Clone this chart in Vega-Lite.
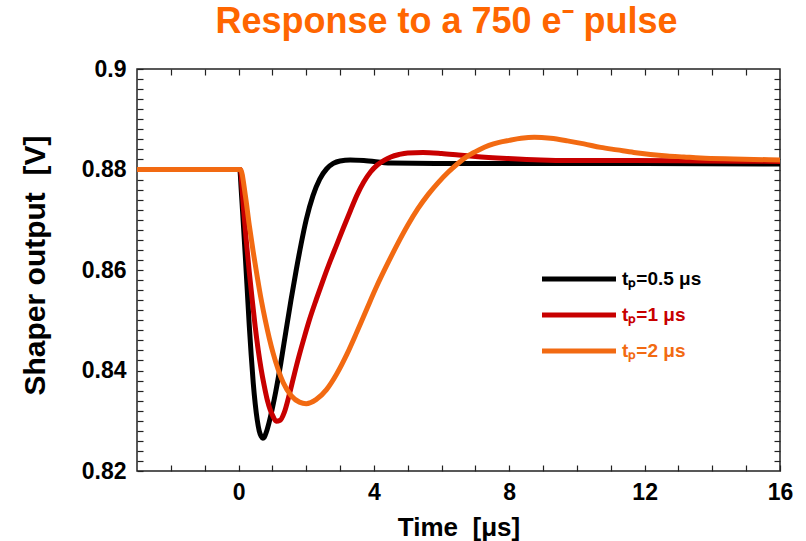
{
  "$schema": "https://vega.github.io/schema/vega-lite/v6.json",
  "width": 643,
  "height": 402,
  "autosize": "none",
  "padding": {"left": 137, "top": 69, "right": 26, "bottom": 70},
  "title": {"text": "Response to a 750 e⁻ pulse", "font": "Liberation Sans", "fontSize": 36, "fontWeight": "bold", "color": "#FF6600", "anchor": "middle", "frame": "group", "dx": -12, "offset": 17},
  "config": {"view": {"stroke": "#222222", "strokeWidth": 1.5}, "font": "Liberation Sans"},
  "data": {"values": [
    {"s": "tₚ=0.5 μs", "t": -3, "v": 0.88},
    {"s": "tₚ=0.5 μs", "t": 0.035, "v": 0.88},
    {"s": "tₚ=0.5 μs", "t": 0.08, "v": 0.8759},
    {"s": "tₚ=0.5 μs", "t": 0.139, "v": 0.8696},
    {"s": "tₚ=0.5 μs", "t": 0.198, "v": 0.863},
    {"s": "tₚ=0.5 μs", "t": 0.257, "v": 0.8561},
    {"s": "tₚ=0.5 μs", "t": 0.316, "v": 0.8491},
    {"s": "tₚ=0.5 μs", "t": 0.375, "v": 0.843},
    {"s": "tₚ=0.5 μs", "t": 0.434, "v": 0.8376},
    {"s": "tₚ=0.5 μs", "t": 0.493, "v": 0.8334},
    {"s": "tₚ=0.5 μs", "t": 0.552, "v": 0.8302},
    {"s": "tₚ=0.5 μs", "t": 0.611, "v": 0.828},
    {"s": "tₚ=0.5 μs", "t": 0.67, "v": 0.8269},
    {"s": "tₚ=0.5 μs", "t": 0.72, "v": 0.8265},
    {"s": "tₚ=0.5 μs", "t": 0.76, "v": 0.8267},
    {"s": "tₚ=0.5 μs", "t": 0.82, "v": 0.8277},
    {"s": "tₚ=0.5 μs", "t": 0.9, "v": 0.8296},
    {"s": "tₚ=0.5 μs", "t": 1.0, "v": 0.8325},
    {"s": "tₚ=0.5 μs", "t": 1.1, "v": 0.8358},
    {"s": "tₚ=0.5 μs", "t": 1.25, "v": 0.8415},
    {"s": "tₚ=0.5 μs", "t": 1.4, "v": 0.8478},
    {"s": "tₚ=0.5 μs", "t": 1.55, "v": 0.854},
    {"s": "tₚ=0.5 μs", "t": 1.7, "v": 0.8598},
    {"s": "tₚ=0.5 μs", "t": 1.85, "v": 0.8652},
    {"s": "tₚ=0.5 μs", "t": 2.0, "v": 0.87},
    {"s": "tₚ=0.5 μs", "t": 2.2, "v": 0.8748},
    {"s": "tₚ=0.5 μs", "t": 2.4, "v": 0.8781},
    {"s": "tₚ=0.5 μs", "t": 2.6, "v": 0.8801},
    {"s": "tₚ=0.5 μs", "t": 2.8, "v": 0.8812},
    {"s": "tₚ=0.5 μs", "t": 3.0, "v": 0.8817},
    {"s": "tₚ=0.5 μs", "t": 3.3, "v": 0.8819},
    {"s": "tₚ=0.5 μs", "t": 3.7, "v": 0.8818},
    {"s": "tₚ=0.5 μs", "t": 4.5, "v": 0.8813},
    {"s": "tₚ=0.5 μs", "t": 6.3, "v": 0.8812},
    {"s": "tₚ=0.5 μs", "t": 9.2, "v": 0.8812},
    {"s": "tₚ=0.5 μs", "t": 12, "v": 0.8812},
    {"s": "tₚ=0.5 μs", "t": 16, "v": 0.8811},
    {"s": "tₚ=1 μs", "t": -3, "v": 0.88},
    {"s": "tₚ=1 μs", "t": 0.05, "v": 0.88},
    {"s": "tₚ=1 μs", "t": 0.139, "v": 0.873},
    {"s": "tₚ=1 μs", "t": 0.227, "v": 0.866},
    {"s": "tₚ=1 μs", "t": 0.316, "v": 0.8597},
    {"s": "tₚ=1 μs", "t": 0.404, "v": 0.8541},
    {"s": "tₚ=1 μs", "t": 0.493, "v": 0.8487},
    {"s": "tₚ=1 μs", "t": 0.581, "v": 0.8441},
    {"s": "tₚ=1 μs", "t": 0.67, "v": 0.8402},
    {"s": "tₚ=1 μs", "t": 0.758, "v": 0.837},
    {"s": "tₚ=1 μs", "t": 0.847, "v": 0.8342},
    {"s": "tₚ=1 μs", "t": 0.935, "v": 0.8322},
    {"s": "tₚ=1 μs", "t": 1.024, "v": 0.8308},
    {"s": "tₚ=1 μs", "t": 1.112, "v": 0.8299},
    {"s": "tₚ=1 μs", "t": 1.23, "v": 0.8301},
    {"s": "tₚ=1 μs", "t": 1.35, "v": 0.8316},
    {"s": "tₚ=1 μs", "t": 1.5, "v": 0.8352},
    {"s": "tₚ=1 μs", "t": 1.65, "v": 0.8393},
    {"s": "tₚ=1 μs", "t": 1.8, "v": 0.8432},
    {"s": "tₚ=1 μs", "t": 1.95, "v": 0.8468},
    {"s": "tₚ=1 μs", "t": 2.1, "v": 0.8502},
    {"s": "tₚ=1 μs", "t": 2.3, "v": 0.8542},
    {"s": "tₚ=1 μs", "t": 2.5, "v": 0.858},
    {"s": "tₚ=1 μs", "t": 2.7, "v": 0.8616},
    {"s": "tₚ=1 μs", "t": 2.9, "v": 0.865},
    {"s": "tₚ=1 μs", "t": 3.1, "v": 0.8684},
    {"s": "tₚ=1 μs", "t": 3.3, "v": 0.8717},
    {"s": "tₚ=1 μs", "t": 3.5, "v": 0.8749},
    {"s": "tₚ=1 μs", "t": 3.7, "v": 0.8775},
    {"s": "tₚ=1 μs", "t": 3.9, "v": 0.8795},
    {"s": "tₚ=1 μs", "t": 4.1, "v": 0.8809},
    {"s": "tₚ=1 μs", "t": 4.3, "v": 0.8818},
    {"s": "tₚ=1 μs", "t": 4.5, "v": 0.8825},
    {"s": "tₚ=1 μs", "t": 4.75, "v": 0.883},
    {"s": "tₚ=1 μs", "t": 5.0, "v": 0.8833},
    {"s": "tₚ=1 μs", "t": 5.45, "v": 0.8834},
    {"s": "tₚ=1 μs", "t": 6.0, "v": 0.8832},
    {"s": "tₚ=1 μs", "t": 6.5, "v": 0.8829},
    {"s": "tₚ=1 μs", "t": 7.0, "v": 0.8826},
    {"s": "tₚ=1 μs", "t": 7.95, "v": 0.8822},
    {"s": "tₚ=1 μs", "t": 8.93, "v": 0.8819},
    {"s": "tₚ=1 μs", "t": 9.72, "v": 0.8818},
    {"s": "tₚ=1 μs", "t": 11.67, "v": 0.8818},
    {"s": "tₚ=1 μs", "t": 13.65, "v": 0.8817},
    {"s": "tₚ=1 μs", "t": 16, "v": 0.8816},
    {"s": "tₚ=2 μs", "t": -3, "v": 0.88},
    {"s": "tₚ=2 μs", "t": 0.06, "v": 0.88},
    {"s": "tₚ=2 μs", "t": 0.198, "v": 0.875},
    {"s": "tₚ=2 μs", "t": 0.316, "v": 0.869},
    {"s": "tₚ=2 μs", "t": 0.434, "v": 0.8636},
    {"s": "tₚ=2 μs", "t": 0.552, "v": 0.8587},
    {"s": "tₚ=2 μs", "t": 0.67, "v": 0.8541},
    {"s": "tₚ=2 μs", "t": 0.788, "v": 0.8501},
    {"s": "tₚ=2 μs", "t": 0.906, "v": 0.8465},
    {"s": "tₚ=2 μs", "t": 1.024, "v": 0.8434},
    {"s": "tₚ=2 μs", "t": 1.171, "v": 0.8402},
    {"s": "tₚ=2 μs", "t": 1.319, "v": 0.8376},
    {"s": "tₚ=2 μs", "t": 1.555, "v": 0.835},
    {"s": "tₚ=2 μs", "t": 1.8, "v": 0.8337},
    {"s": "tₚ=2 μs", "t": 2.0, "v": 0.8334},
    {"s": "tₚ=2 μs", "t": 2.29, "v": 0.8342},
    {"s": "tₚ=2 μs", "t": 2.6, "v": 0.8362},
    {"s": "tₚ=2 μs", "t": 2.9, "v": 0.8393},
    {"s": "tₚ=2 μs", "t": 3.2, "v": 0.8432},
    {"s": "tₚ=2 μs", "t": 3.5, "v": 0.8477},
    {"s": "tₚ=2 μs", "t": 3.8, "v": 0.8524},
    {"s": "tₚ=2 μs", "t": 4.1, "v": 0.857},
    {"s": "tₚ=2 μs", "t": 4.4, "v": 0.8612},
    {"s": "tₚ=2 μs", "t": 4.7, "v": 0.8652},
    {"s": "tₚ=2 μs", "t": 5.0, "v": 0.8689},
    {"s": "tₚ=2 μs", "t": 5.3, "v": 0.8722},
    {"s": "tₚ=2 μs", "t": 5.6, "v": 0.875},
    {"s": "tₚ=2 μs", "t": 5.9, "v": 0.8774},
    {"s": "tₚ=2 μs", "t": 6.2, "v": 0.8795},
    {"s": "tₚ=2 μs", "t": 6.5, "v": 0.8813},
    {"s": "tₚ=2 μs", "t": 6.8, "v": 0.8828},
    {"s": "tₚ=2 μs", "t": 7.1, "v": 0.8839},
    {"s": "tₚ=2 μs", "t": 7.4, "v": 0.8848},
    {"s": "tₚ=2 μs", "t": 7.7, "v": 0.8854},
    {"s": "tₚ=2 μs", "t": 8.0, "v": 0.8858},
    {"s": "tₚ=2 μs", "t": 8.35, "v": 0.8862},
    {"s": "tₚ=2 μs", "t": 8.74, "v": 0.8864},
    {"s": "tₚ=2 μs", "t": 9.22, "v": 0.8862},
    {"s": "tₚ=2 μs", "t": 9.72, "v": 0.8857},
    {"s": "tₚ=2 μs", "t": 10.21, "v": 0.8851},
    {"s": "tₚ=2 μs", "t": 10.7, "v": 0.8844},
    {"s": "tₚ=2 μs", "t": 11.19, "v": 0.8839},
    {"s": "tₚ=2 μs", "t": 11.68, "v": 0.8834},
    {"s": "tₚ=2 μs", "t": 12.17, "v": 0.883},
    {"s": "tₚ=2 μs", "t": 12.67, "v": 0.8827},
    {"s": "tₚ=2 μs", "t": 13.16, "v": 0.8825},
    {"s": "tₚ=2 μs", "t": 13.65, "v": 0.8823},
    {"s": "tₚ=2 μs", "t": 14.63, "v": 0.8821},
    {"s": "tₚ=2 μs", "t": 16, "v": 0.8819}
  ]},
  "layer": [
    {
      "mark": {"type": "line", "opacity": 0},
      "encoding": {
        "x": {"field": "t", "type": "quantitative", "scale": {"domain": [-3, 16], "nice": false, "zero": false},
          "axis": {"orient": "top", "values": [-2,-1,0,1,2,3,4,5,6,7,8,9,10,11,12,13,14,15], "labels": false, "title": null, "domain": false, "grid": false, "tickSize": -6, "tickColor": "#222222", "tickWidth": 1.2,
            "encode": {"ticks": {"update": {"y2": {"signal": "datum.value % 4 === 0 ? 12 : 6"}}}}}},
        "y": {"field": "v", "type": "quantitative", "scale": {"domain": [0.82, 0.9], "nice": false, "zero": false},
          "axis": {"orient": "right", "values": [0.822,0.824,0.826,0.828,0.83,0.832,0.834,0.836,0.838,0.84,0.842,0.844,0.846,0.848,0.85,0.852,0.854,0.856,0.858,0.86,0.862,0.864,0.866,0.868,0.87,0.872,0.874,0.876,0.878,0.88,0.882,0.884,0.886,0.888,0.89,0.892,0.894,0.896,0.898], "labels": false, "title": null, "domain": false, "grid": false, "tickSize": -6, "tickColor": "#222222", "tickWidth": 1.2,
            "encode": {"ticks": {"update": {"x2": {"signal": "abs(round(datum.value*1000)) % 10 === 0 ? -12 : -6"}}}}}},
        "detail": {"field": "s", "type": "nominal"}
      }
    },
    {
      "mark": {"type": "line", "strokeWidth": 5, "interpolate": "monotone"},
      "encoding": {
        "x": {"field": "t", "type": "quantitative", "scale": {"domain": [-3, 16], "nice": false, "zero": false},
          "axis": {"orient": "bottom", "values": [-2,-1,0,1,2,3,4,5,6,7,8,9,10,11,12,13,14,15,16], "labelExpr": "datum.value % 4 === 0 ? datum.label : ''", "labelFont": "Liberation Sans", "labelFontSize": 23, "labelFontWeight": "bold", "labelColor": "#000000", "labelPadding": 16, "labelOverlap": false, "labelFlush": false, "domain": false, "grid": false, "tickSize": -6, "tickColor": "#222222", "tickWidth": 1.2,
            "encode": {"ticks": {"update": {"y2": {"signal": "datum.value % 4 === 0 ? -12 : -6"}}}},
            "title": "Time\u00a0\u00a0[μs]", "titleFont": "Liberation Sans", "titleFontSize": 26, "titleFontWeight": "bold", "titleColor": "#000000", "titlePadding": 10}},
        "y": {"field": "v", "type": "quantitative", "scale": {"domain": [0.82, 0.9], "nice": false, "zero": false},
          "axis": {"orient": "left", "values": [0.82,0.822,0.824,0.826,0.828,0.83,0.832,0.834,0.836,0.838,0.84,0.842,0.844,0.846,0.848,0.85,0.852,0.854,0.856,0.858,0.86,0.862,0.864,0.866,0.868,0.87,0.872,0.874,0.876,0.878,0.88,0.882,0.884,0.886,0.888,0.89,0.892,0.894,0.896,0.898,0.9], "format": ".2~f", "labelExpr": "round(datum.value*1000) % 20 === 0 ? datum.label : ''", "labelFont": "Liberation Sans", "labelFontSize": 23, "labelFontWeight": "bold", "labelColor": "#000000", "labelPadding": 17, "labelOverlap": false, "labelFlush": false, "domain": false, "grid": false, "tickSize": -6, "tickColor": "#222222", "tickWidth": 1.2,
            "encode": {"ticks": {"update": {"x2": {"signal": "abs(round(datum.value*1000)) % 10 === 0 ? 12 : 6"}}}},
            "title": "Shaper output\u00a0\u00a0[V]", "titleFont": "Liberation Sans", "titleFontSize": 30, "titleFontWeight": "bold", "titleColor": "#000000", "titlePadding": 31, "titleY": 196}},
        "color": {"field": "s", "type": "nominal",
          "scale": {"domain": ["tₚ=0.5 μs", "tₚ=1 μs", "tₚ=2 μs"], "range": ["#000000", "#C80000", "#F26A12"]},
          "legend": {"orient": "none", "legendX": 432, "legendY": 200, "title": null, "padding": 0, "rowPadding": 16, "symbolType": "M-5,0H5", "symbolStrokeWidth": 5, "symbolSize": 219, "labelFont": "Liberation Sans", "labelFontSize": 19, "labelFontWeight": "bold", "labelOffset": 33,
            "encode": {"labels": {"update": {"fill": {"scale": "color", "field": "value"}}}}}}
      }
    }
  ],
  "resolve": {"axis": {"x": "independent", "y": "independent"}}
}
